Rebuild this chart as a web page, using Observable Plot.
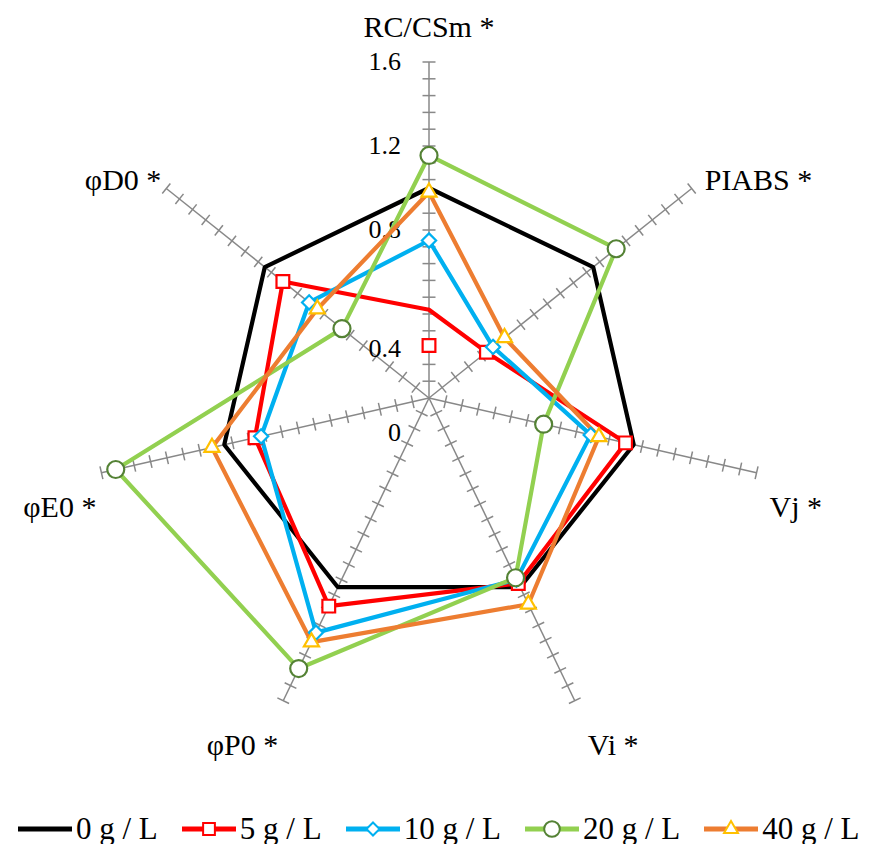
<!DOCTYPE html>
<html><head><meta charset="utf-8">
<script src="https://cdn.jsdelivr.net/npm/d3@7"></script>
<script src="https://cdn.jsdelivr.net/npm/@observablehq/plot@0.6"></script>
<style>
body{margin:0;background:#fff;}
#chart{width:870px;font-family:'Liberation Serif','Times New Roman',Times,serif;}
#chart svg{display:block;}
#chart svg text{font-family:'Liberation Serif','Times New Roman',Times,serif;}
.legend{display:flex;align-items:center;height:30px;padding-top:24px;padding-left:18px;font-size:31px;color:#000;}
.item{display:flex;align-items:center;margin-right:24px;white-space:pre;}
.item svg{margin-right:4px;}
</style></head><body><div id="chart"></div>
<script>
// ---- data ----
const axisNames = ["RC/CSm *", "PIABS *", "Vj *", "Vi *", "φP0 *", "φE0 *", "φD0 *"];
const seriesNames = ["0 g / L", "5 g / L", "10 g / L", "20 g / L", "40 g / L"];
const values0  = [1.00, 1.00, 1.00, 1.00, 1.00, 1.00, 1.00];
const values5  = [0.42, 0.35, 0.96, 0.98, 1.10, 0.85, 0.89];
const markers5 = [0.25, 0.35, 0.96, 0.98, 1.10, 0.85, 0.89]; // marker drawn off the line on RC/CSm in the original
const values10 = [0.75, 0.39, 0.79, 0.96, 1.24, 0.82, 0.73];
const values20 = [1.155, 1.14, 0.56, 0.95, 1.43, 1.53, 0.53];
const values40 = [0.98, 0.46, 0.83, 1.09, 1.29, 1.06, 0.68];
const majorTicks = [0, 0.4, 0.8, 1.2, 1.6];
const tickLabels = ["0", "0.4", "0.8", "1.2", "1.6"];
const minorStep = 0.08;
const axisMax = 1.6;

// ---- styles ----
const FONT = "'Liberation Serif','Times New Roman',Times,serif";
const seriesData = [values0, values5, values10, values20, values40];
const markerData = [null, markers5, values10, values20, values40];
const styles = [
  {stroke: "#000000", symbol: null},
  {stroke: "#FF0000", symbol: "square", mstroke: "#FF0000", r: 7.2},
  {stroke: "#00B0F0", symbol: "diamond2", mstroke: "#00B0F0", r: 6.4},
  {stroke: "#92D050", symbol: "circle", mstroke: "#548235", r: 8.5},
  {stroke: "#ED7D31", symbol: "triangle", mstroke: "#FFC000", r: 5.6}
];

const W = 870, H = 790, cx = 428.5, cy = 397.5, k = 210; // k = px per unit
const n = axisNames.length;
const ang = i => i * 2 * Math.PI / n;
const X = (i, v) => v * Math.sin(ang(i));
const Y = (i, v) => v * Math.cos(ang(i));

const spokes = axisNames.map((name, i) => ({x1: 0, y1: 0, x2: X(i, axisMax), y2: Y(i, axisMax)}));
const tickHalf = 6.5 / k;
const ticks = [];
axisNames.forEach((name, i) => {
  const nt = Math.round(axisMax / minorStep);
  const c = Math.cos(ang(i)), s = Math.sin(ang(i));
  for (let j = 1; j <= nt; j++) {
    const v = j * minorStep;
    const px = X(i, v), py = Y(i, v);
    ticks.push({x1: px - c * tickHalf, y1: py + s * tickHalf, x2: px + c * tickHalf, y2: py - s * tickHalf});
  }
});

const axisLabels = axisNames.map((name, i) => {
  const s = Math.sin(ang(i)), c = Math.cos(ang(i));
  const anchor = Math.abs(s) < 0.1 ? "middle" : (s > 0 ? "start" : "end");
  const dx = s > 0.1 ? 13 : (s < -0.1 ? -5 : 0);
  const dy = c > 0.9 ? -35 : (c > 0 ? -8 : (c > -0.5 ? 35 : 45));
  return {name, anchor, x: X(i, axisMax) + dx / k, y: Y(i, axisMax) - dy / k};
});

const valueLabels = majorTicks.map((v, j) => ({text: tickLabels[j], x: 0, y: v - (v < 0.6 ? 35 / k : 0)}));

const marks = [
  Plot.link(spokes, {x1: "x1", y1: "y1", x2: "x2", y2: "y2", stroke: "#888888", strokeWidth: 1.5}),
  Plot.link(ticks, {x1: "x1", y1: "y1", x2: "x2", y2: "y2", stroke: "#888888", strokeWidth: 1.5}),
  Plot.text(valueLabels, {x: "x", y: "y", text: "text", textAnchor: "end", dx: -28, fontSize: 26, fill: "#000", fontFamily: FONT})
];
seriesData.forEach((vals, si) => {
  const pts = vals.map((v, i) => ({x: X(i, v), y: Y(i, v)}));
  pts.push(pts[0]);
  marks.push(Plot.line(pts, {x: "x", y: "y", stroke: styles[si].stroke, strokeWidth: 4.2, strokeLinejoin: "miter", curve: "linear"}));
});
markerData.forEach((vals, si) => {
  if (!vals) return;
  const st = styles[si];
  const pts = vals.map((v, i) => ({x: X(i, v), y: Y(i, v)}));
  marks.push(Plot.dot(pts, {x: "x", y: "y", symbol: () => st.symbol, r: st.r, stroke: st.mstroke, fill: "#fff", strokeWidth: 2.2}));
});
["start", "middle", "end"].forEach(a => {
  marks.push(Plot.text(axisLabels.filter(d => d.anchor === a), {x: "x", y: "y", text: "name", textAnchor: a, fontSize: 30, fill: "#000", fontFamily: FONT}));
});

const plot = Plot.plot({
  width: W, height: H,
  margin: 0,
  style: {fontFamily: FONT, background: "#fff"},
  x: {domain: [-cx / k, (W - cx) / k], range: [0, W], axis: null},
  y: {domain: [cy / k, -(H - cy) / k], range: [0, H], axis: null},
  symbol: {type: "identity"},
  marks
});
document.getElementById("chart").appendChild(plot);

// legend
const legend = document.createElement("div");
legend.className = "legend";
const symMap = {square: d3.symbolSquare, diamond2: d3.symbolDiamond2, circle: d3.symbolCircle, triangle: d3.symbolTriangle};
seriesNames.forEach((name, si) => {
  const st = styles[si];
  const item = document.createElement("div");
  item.className = "item";
  const svg = d3.create("svg").attr("width", 54).attr("height", 24);
  svg.append("line").attr("x1", 0).attr("x2", 54).attr("y1", 12).attr("y2", 12).attr("stroke", st.stroke).attr("stroke-width", 5);
  if (st.symbol) {
    svg.append("path").attr("transform", "translate(27,12)")
      .attr("d", d3.symbol(symMap[st.symbol], Math.PI * st.r * st.r * 0.85)())
      .attr("fill", "#fff").attr("stroke", st.mstroke).attr("stroke-width", 2);
  }
  item.appendChild(svg.node());
  const span = document.createElement("span");
  span.textContent = name;
  item.appendChild(span);
  legend.appendChild(item);
});
document.getElementById("chart").appendChild(legend);
</script>
</body></html>
